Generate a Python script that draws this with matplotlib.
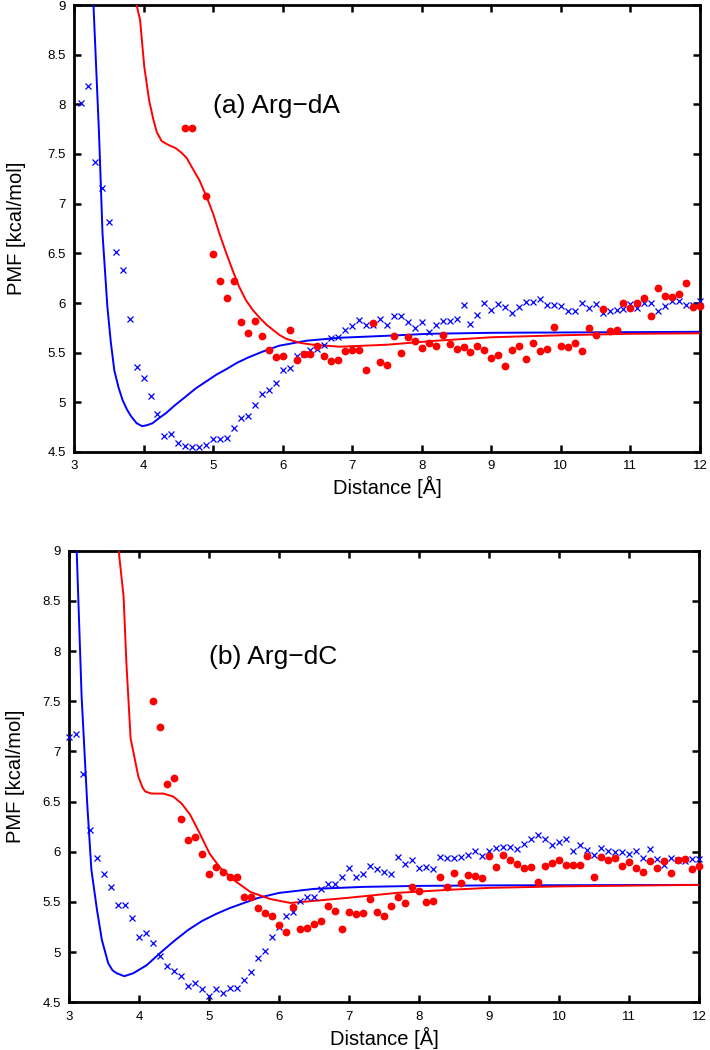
import numpy as np
import matplotlib
matplotlib.use("Agg")
import matplotlib.pyplot as plt
from matplotlib.ticker import FuncFormatter

plt.rcParams['font.family'] = ['Liberation Sans', 'DejaVu Sans']

# ---------------- Panel (a) Arg-dA ----------------
a_cross_x = np.round(np.arange(3.1, 12.05, 0.1), 2)
a_cross_y = [8.01, 8.18, 7.42, 7.16, 6.82, 6.51, 6.33, 5.84, 5.36, 5.24,
             5.06, 4.88, 4.66, 4.68, 4.59, 4.56, 4.55, 4.55, 4.57, 4.63,
             4.63, 4.64, 4.74, 4.84, 4.86, 4.97, 5.08, 5.12, 5.19, 5.33,
             5.35, 5.47, 5.49, 5.53, 5.54, 5.58, 5.65, 5.66, 5.73, 5.77,
             5.83, 5.78, 5.78, 5.84, 5.78, 5.87, 5.87, 5.81, 5.75, 5.81,
             5.71, 5.78, 5.82, 5.82, 5.84, 5.98, 5.79, 5.88, 6.00, 5.93,
             5.99, 5.96, 5.90, 5.96, 6.01, 6.01, 6.04, 5.98, 5.98, 5.97,
             5.92, 5.92, 6.00, 5.95, 5.99, 5.90, 5.92, 5.93, 5.94, 5.99,
             5.95, 6.00, 6.00, 5.92, 5.97, 6.02, 6.02, 5.98, 5.98, 6.02]

a_dot_x = [4.6, 4.7] + list(np.round(np.arange(4.9, 12.05, 0.1), 2))
a_dot_y = [7.76, 7.76, 7.08, 6.49, 6.22, 6.05, 6.22, 5.81, 5.70, 5.82,
           5.67, 5.53, 5.46, 5.47, 5.73, 5.43, 5.49, 5.49, 5.57, 5.47,
           5.42, 5.43, 5.52, 5.53, 5.53, 5.33, 5.80, 5.41, 5.38, 5.67,
           5.50, 5.66, 5.62, 5.55, 5.60, 5.57, 5.68, 5.59, 5.54, 5.56,
           5.51, 5.57, 5.53, 5.45, 5.48, 5.37, 5.53, 5.57, 5.44, 5.60,
           5.52, 5.54, 5.76, 5.57, 5.56, 5.60, 5.52, 5.75, 5.68, 5.94,
           5.72, 5.73, 6.00, 5.95, 6.00, 6.05, 5.87, 6.15, 6.07, 6.06,
           6.09, 6.20, 5.96, 5.97]

a_blue_line_x = [3.27, 3.28, 3.36, 3.41, 3.48, 3.53, 3.58, 3.64, 3.70, 3.76,
                 3.82, 3.90, 3.98, 4.05, 4.13, 4.22, 4.32, 4.45, 4.61, 4.75,
                 4.90, 5.05, 5.18, 5.35, 5.50, 5.71, 5.95, 6.34, 6.82, 7.5,
                 8.1, 9.0, 10.5, 12.0]
a_blue_line_y = [9.2, 9.0, 7.7, 6.70, 5.96, 5.60, 5.32, 5.15, 5.02, 4.93,
                 4.86, 4.79, 4.76, 4.77, 4.79, 4.84, 4.89, 4.97, 5.06, 5.14,
                 5.21, 5.28, 5.33, 5.40, 5.45, 5.51, 5.57, 5.62, 5.65, 5.67,
                 5.69, 5.70, 5.705, 5.71]

a_red_line_x = [3.89, 3.90, 3.95, 4.01, 4.08, 4.14, 4.19, 4.26, 4.36, 4.46,
                4.55, 4.62, 4.70, 4.80, 4.90, 5.00, 5.09, 5.19, 5.28, 5.37,
                5.47, 5.57, 5.67, 5.77, 5.86, 5.95, 6.05, 6.24, 6.43, 6.82,
                7.5, 8.2, 9.0, 10.0, 11.0, 12.0]
a_red_line_y = [9.2, 9.0, 8.85, 8.38, 8.04, 7.85, 7.72, 7.63, 7.59, 7.56,
                7.51, 7.46, 7.36, 7.24, 7.08, 6.90, 6.70, 6.50, 6.33, 6.17,
                6.03, 5.93, 5.85, 5.78, 5.73, 5.68, 5.64, 5.60, 5.58, 5.56,
                5.58, 5.62, 5.655, 5.675, 5.69, 5.695]

# ---------------- Panel (b) Arg-dC ----------------
b_cross_x = np.round(np.arange(3.0, 12.05, 0.1), 2)
b_cross_y = [7.14, 7.17, 6.77, 6.22, 5.94, 5.78, 5.65, 5.47, 5.47, 5.34,
             5.15, 5.19, 5.09, 4.96, 4.86, 4.81, 4.76, 4.66, 4.69, 4.63,
             4.56, 4.63, 4.59, 4.64, 4.64, 4.72, 4.80, 4.94, 5.01, 5.15,
             5.25, 5.36, 5.40, 5.51, 5.55, 5.55, 5.63, 5.68, 5.68, 5.75,
             5.84, 5.75, 5.78, 5.86, 5.83, 5.80, 5.78, 5.95, 5.88, 5.92,
             5.84, 5.85, 5.83, 5.95, 5.94, 5.94, 5.95, 5.97, 6.01, 5.96,
             6.01, 6.04, 6.05, 6.05, 6.03, 6.08, 6.13, 6.17, 6.13, 6.07,
             6.10, 6.13, 6.01, 6.07, 6.02, 5.97, 6.04, 6.01, 6.00, 6.00,
             5.98, 6.01, 5.94, 6.03, 5.93, 5.87, 5.94, 5.92, 5.91, 5.93,
             5.93]

b_dot_x = np.round(np.arange(4.2, 12.05, 0.1), 2)
b_dot_y = [7.50, 7.24, 6.68, 6.74, 6.33, 6.12, 6.15, 5.98, 5.78, 5.85,
           5.80, 5.75, 5.75, 5.55, 5.55, 5.44, 5.39, 5.36, 5.27, 5.20,
           5.45, 5.23, 5.24, 5.28, 5.31, 5.46, 5.41, 5.23, 5.40, 5.38,
           5.39, 5.53, 5.40, 5.36, 5.46, 5.55, 5.49, 5.65, 5.61, 5.50,
           5.51, 5.75, 5.65, 5.79, 5.69, 5.77, 5.76, 5.74, 5.96, 5.85,
           5.97, 5.92, 5.88, 5.84, 5.85, 5.70, 5.86, 5.89, 5.92, 5.87,
           5.87, 5.87, 5.96, 5.75, 5.95, 5.92, 5.94, 5.86, 5.90, 5.84,
           5.80, 5.91, 5.84, 5.91, 5.79, 5.92, 5.93, 5.83, 5.86]

b_blue_line_x = [3.10, 3.11, 3.18, 3.24, 3.26, 3.32, 3.40, 3.47, 3.56, 3.62,
                 3.68, 3.79, 3.92, 4.11, 4.30, 4.50, 4.70, 4.90, 5.10, 5.30,
                 5.50, 5.70, 6.00, 6.50, 7.20, 8.00, 9.00, 12.0]
b_blue_line_y = [9.2, 9.0, 7.55, 6.75, 6.48, 5.82, 5.42, 5.12, 4.89, 4.82,
                 4.79, 4.76, 4.79, 4.87, 4.99, 5.11, 5.22, 5.31, 5.38, 5.44,
                 5.49, 5.54, 5.59, 5.63, 5.65, 5.66, 5.665, 5.67]

b_red_line_x = [3.70, 3.71, 3.78, 3.82, 3.88, 3.99, 4.05, 4.09, 4.18, 4.35,
                4.49, 4.61, 4.73, 4.87, 5.01, 5.16, 5.35, 5.59, 5.87, 6.16,
                6.49, 6.97, 7.68, 8.40, 9.0, 10.0, 12.0]
b_red_line_y = [9.2, 9.0, 8.54, 7.88, 7.13, 6.75, 6.64, 6.60, 6.58, 6.58,
                6.55, 6.48, 6.37, 6.18, 5.98, 5.84, 5.72, 5.60, 5.53, 5.49,
                5.51, 5.54, 5.59, 5.62, 5.64, 5.655, 5.67]

x_ticks = [3, 4, 5, 6, 7, 8, 9, 10, 11, 12]
y_ticks = [4.5, 5, 5.5, 6, 6.5, 7, 7.5, 8, 8.5, 9]

BLUE = '#0000ff'
RED = '#ff0000'

fig = plt.figure(figsize=(7.1, 10.5), dpi=100)
ax_a = fig.add_axes([74 / 710, 1 - 452 / 1050, 626 / 710, 447 / 1050])
ax_b = fig.add_axes([69 / 710, 1 - 1002.3 / 1050, 630 / 710, 451.6 / 1050])

fmt = FuncFormatter(lambda v, p: ('%g' % v))


def draw(ax, cx, cy, dx, dy, blx, bly, rlx, rly, label, lx, ly, ylab_x):
    ax.plot(blx, bly, color=BLUE, lw=1.4, zorder=3)
    ax.plot(rlx, rly, color=RED, lw=1.4, zorder=3)
    ax.plot(cx, cy, ls='none', marker='x', color=BLUE, ms=4.6, mew=0.9,
            zorder=4, clip_on=False)
    ax.plot(dx, dy, ls='none', marker='o', color=RED, mec=RED, ms=4.6,
            zorder=5, clip_on=False)
    ax.set_xlim(3, 12)
    ax.set_ylim(4.5, 9)
    ax.set_xticks(x_ticks)
    ax.set_yticks(y_ticks)
    ax.yaxis.set_major_formatter(fmt)
    ax.xaxis.set_major_formatter(fmt)
    ax.tick_params(direction='in', length=5, width=1.8, top=True, right=True,
                   labelsize=9.5, pad=6, colors='black')
    for s in ax.spines.values():
        s.set_linewidth(2.0)
    ax.set_xlabel('Distance [Å]', fontsize=14.5)
    ax.set_ylabel('PMF [kcal/mol]', fontsize=14.5)
    ax.xaxis.label.set_va('center')
    ax.yaxis.label.set_va('center')
    ax.xaxis.set_label_coords(0.5, -0.078)
    ax.yaxis.set_label_coords(ylab_x, 0.5)
    ax.text(lx, ly, label, fontsize=19, ha='left', va='center')


draw(ax_a, a_cross_x, a_cross_y, a_dot_x, a_dot_y,
     a_blue_line_x, a_blue_line_y, a_red_line_x, a_red_line_y,
     '(a) Arg\u2212dA', 5.0, 7.98, -0.092)
draw(ax_b, b_cross_x, b_cross_y, b_dot_x, b_dot_y,
     b_blue_line_x, b_blue_line_y, b_red_line_x, b_red_line_y,
     '(b) Arg\u2212dC', 5.0, 7.94, -0.085)

fig.savefig('out.png', dpi=100)
